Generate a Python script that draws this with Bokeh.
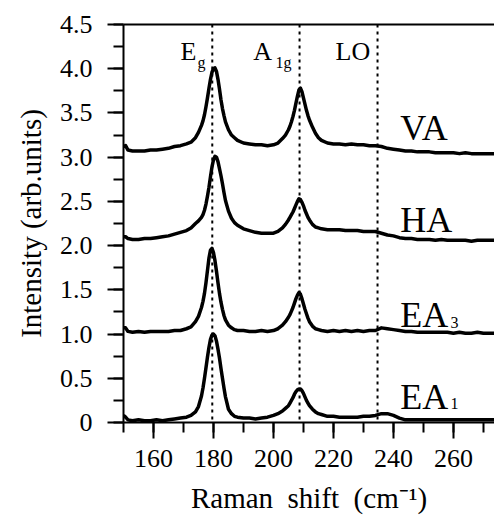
from bokeh.plotting import figure
from bokeh.models import (Range1d, SingleIntervalTicker, LinearAxis, Span, Label,
                          CustomJSTickFormatter, ColumnDataSource)
from bokeh.embed import file_html
from bokeh.resources import INLINE

# ---------------- data ----------------
raman_shift = [
    150, 150.7, 151.5, 153, 155, 157, 159, 161, 163, 165, 167, 169, 171, 172.5, 174, 175,
    176, 176.5, 177, 177.5, 178, 178.5, 179, 179.5, 180, 180.5, 181, 181.5, 182, 182.5, 183, 183.5, 184, 185,
    186, 187, 188, 190, 192, 194, 196, 198, 200, 201.5, 203,
    204, 205, 205.5, 206, 206.5, 207, 207.5, 208, 208.5, 209, 209.5, 210, 210.5, 211, 211.5, 212, 213,
    214, 215, 216, 218, 220, 222, 224, 226, 228, 230, 232, 234, 236, 238, 240, 242, 244, 246, 248, 250,
    252, 254, 256, 258, 260, 262, 264, 266, 268, 270, 272, 274,
]

va = [
    3.12, 3.13, 3.08, 3.07, 3.07, 3.07, 3.08, 3.08, 3.09, 3.10, 3.12, 3.13, 3.15, 3.17, 3.22, 3.28,
    3.36, 3.41, 3.48, 3.57, 3.67, 3.78, 3.88, 3.96, 4.00, 4.01, 3.97, 3.88, 3.77, 3.65, 3.55, 3.47, 3.40, 3.31,
    3.25, 3.22, 3.19, 3.16, 3.15, 3.14, 3.14, 3.13, 3.14, 3.16, 3.21,
    3.25, 3.31, 3.35, 3.40, 3.46, 3.53, 3.61, 3.69, 3.76, 3.78, 3.74, 3.67, 3.60, 3.53, 3.47, 3.42, 3.34,
    3.27, 3.22, 3.19, 3.16, 3.15, 3.15, 3.14, 3.15, 3.14, 3.14, 3.13, 3.13, 3.12, 3.10, 3.09, 3.08, 3.07, 3.07, 3.06, 3.06,
    3.06, 3.05, 3.05, 3.05, 3.05, 3.04, 3.05, 3.04, 3.04, 3.04, 3.04, 3.04,
]

ha = [
    2.10, 2.10, 2.08, 2.07, 2.07, 2.08, 2.08, 2.09, 2.10, 2.11, 2.13, 2.15, 2.17, 2.20, 2.25, 2.28,
    2.32, 2.35, 2.40, 2.47, 2.56, 2.66, 2.78, 2.89, 2.97, 3.01, 3.00, 2.95, 2.87, 2.79, 2.70, 2.60, 2.51, 2.39,
    2.31, 2.26, 2.23, 2.19, 2.17, 2.15, 2.14, 2.14, 2.14, 2.16, 2.20,
    2.24, 2.29, 2.32, 2.35, 2.38, 2.42, 2.46, 2.50, 2.53, 2.52, 2.49, 2.45, 2.40, 2.36, 2.32, 2.29, 2.24,
    2.21, 2.20, 2.19, 2.18, 2.18, 2.18, 2.17, 2.17, 2.17, 2.16, 2.16, 2.16, 2.14, 2.12, 2.11, 2.09, 2.08, 2.08, 2.07, 2.07,
    2.07, 2.06, 2.07, 2.06, 2.06, 2.06, 2.06, 2.05, 2.06, 2.06, 2.06, 2.06,
]

ea3 = [
    1.07, 1.07, 1.03, 1.02, 1.03, 1.02, 1.03, 1.03, 1.03, 1.03, 1.04, 1.04, 1.06, 1.08, 1.14, 1.20,
    1.30, 1.37, 1.46, 1.58, 1.72, 1.86, 1.95, 1.97, 1.92, 1.83, 1.71, 1.58, 1.46, 1.36, 1.28, 1.21, 1.16, 1.10,
    1.07, 1.05, 1.04, 1.04, 1.03, 1.03, 1.04, 1.03, 1.04, 1.06, 1.10,
    1.14, 1.19, 1.22, 1.26, 1.30, 1.35, 1.40, 1.44, 1.47, 1.45, 1.40, 1.34, 1.28, 1.23, 1.18, 1.14, 1.09,
    1.06, 1.05, 1.04, 1.03, 1.04, 1.03, 1.04, 1.03, 1.04, 1.03, 1.04, 1.04, 1.07, 1.06, 1.05, 1.04, 1.03, 1.03, 1.02, 1.02,
    1.02, 1.02, 1.02, 1.02, 1.01, 1.02, 1.01, 1.01, 1.02, 1.01, 1.01, 1.01,
]

ea1 = [
    0.08, 0.06, 0.03, 0.02, 0.03, 0.02, 0.02, 0.03, 0.02, 0.03, 0.04, 0.05, 0.06, 0.08, 0.12, 0.18,
    0.30, 0.39, 0.50, 0.62, 0.74, 0.85, 0.94, 0.99, 1.00, 0.98, 0.92, 0.83, 0.73, 0.61, 0.50, 0.39, 0.29, 0.15,
    0.10, 0.07, 0.06, 0.05, 0.05, 0.04, 0.05, 0.06, 0.08, 0.10, 0.13,
    0.16, 0.19, 0.22, 0.25, 0.28, 0.32, 0.35, 0.37, 0.38, 0.38, 0.36, 0.33, 0.29, 0.25, 0.22, 0.19, 0.15,
    0.12, 0.10, 0.09, 0.07, 0.07, 0.06, 0.06, 0.06, 0.06, 0.07, 0.07, 0.08, 0.10, 0.10, 0.08, 0.05, 0.03, 0.03, 0.03, 0.03,
    0.03, 0.03, 0.03, 0.03, 0.03, 0.03, 0.03, 0.03, 0.03, 0.03, 0.03, 0.03,
]

mode_positions = [179.6, 208.7, 234.7]

FONT = "Liberation Serif"

# ---------------- figure ----------------
p = figure(width=494, height=517, output_backend="svg", toolbar_location=None,
           x_range=Range1d(150, 273.7), y_range=Range1d(0, 4.5),
           min_border_left=123, min_border_right=0, min_border_top=24, min_border_bottom=95)
p.outline_line_color = None
p.xgrid.visible = False
p.ygrid.visible = False
p.background_fill_color = "white"
p.border_fill_color = "white"

for loc in mode_positions:
    p.add_layout(Span(location=loc, dimension="height", line_color="black",
                      line_width=2, line_dash="3 4"))

for ys in (va, ha, ea3, ea1):
    src = ColumnDataSource(dict(x=raman_shift, y=ys))
    p.line("x", "y", source=src, line_color="black", line_width=3.5, line_join="round")

# axes
xa = p.xaxis[0]
xa.ticker = SingleIntervalTicker(interval=20, num_minor_ticks=2)
ya = p.yaxis[0]
ya.ticker = SingleIntervalTicker(interval=0.5, num_minor_ticks=2)
ya.formatter = CustomJSTickFormatter(code="return tick == 0 ? '0' : tick.toFixed(1);")

for ax in (xa, ya):
    ax.axis_line_width = 2
    ax.major_tick_line_width = 2
    ax.minor_tick_line_width = 2
    ax.major_tick_in = 0
    ax.minor_tick_in = 0
    ax.major_tick_out = 16
    ax.minor_tick_out = 10
    ax.major_label_text_font = FONT
    ax.major_label_text_font_size = "26px"
    ax.major_label_text_color = "black"
    ax.axis_label_text_font = FONT
    ax.axis_label_text_font_style = "normal"
    ax.axis_label_text_color = "black"

xa.major_label_standoff = 11
xa.axis_label = "Raman\u2002shift\u2002(cm\u207b\u00b9)"
xa.axis_label_text_font_size = "29px"
xa.axis_label_standoff = 12

ya.major_label_standoff = 15
ya.axis_label = "Intensity (arb.units)"
ya.axis_label_text_font_size = "29px"
ya.axis_label_standoff = 10

top = LinearAxis(ticker=SingleIntervalTicker(interval=20),
                 formatter=CustomJSTickFormatter(code="return '';"))
top.axis_line_width = 2
top.major_tick_line_color = None
top.minor_tick_line_color = None
top.major_tick_out = 0
top.minor_tick_out = 0
top.major_tick_in = 0
top.minor_tick_in = 0
top.major_label_standoff = 0
top.major_label_text_font_size = "1px"
p.add_layout(top, "above")

# annotations
def lab(x, y, text, size):
    p.add_layout(Label(x=x, y=y, text=text, text_font=FONT, text_font_size=size,
                       text_color="black", text_baseline="alphabetic", text_align="left"))

lab(169.0, 4.19, "E", "26px")
lab(174.7, 4.065, "g", "16px")
lab(193.3, 4.19, "A", "26px")
lab(200.7, 4.075, "1g", "16px")
lab(220.7, 4.19, "LO", "26px")
lab(242.3, 3.33, "VA", "36px")
lab(242.3, 2.29, "HA", "36px")
lab(242.3, 1.22, "EA", "36px")
lab(259.0, 1.13, "3", "16px")
lab(242.3, 0.29, "EA", "36px")
lab(259.0, 0.22, "1", "16px")

open("out.html", "w").write(file_html(p, INLINE))
